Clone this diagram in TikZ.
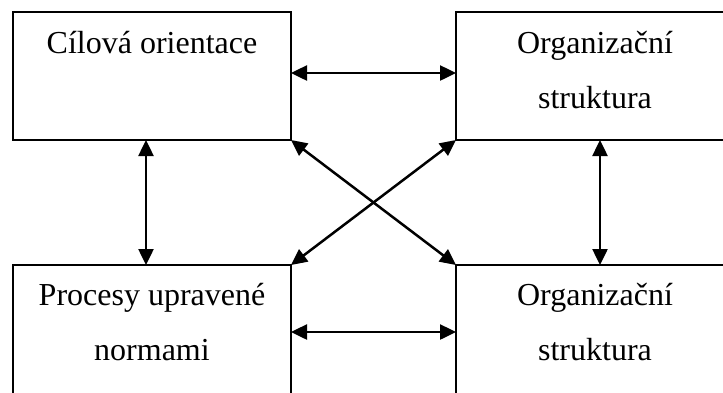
\documentclass[tikz,border=0pt]{standalone}
\usepackage{fontspec}
\setmainfont{Liberation Serif}
\usetikzlibrary{arrows.meta}
\begin{document}
\begin{tikzpicture}[x=1pt,y=-1pt,
  box/.style={draw, line width=2pt, minimum width=278pt, minimum height=128pt, inner sep=0pt, outer sep=0pt, anchor=north west},
  lowbox/.style={box, minimum height=136pt},
  lbl/.style={font=\fontsize{32}{40}\selectfont, anchor=base, inner sep=0pt},
  link/.style={line width=2.5pt, {Triangle[length=16pt,width=15pt]}-{Triangle[length=16pt,width=15pt]}}]
\useasboundingbox (0,0) rectangle (723,392);
\clip (0,0) rectangle (723,392);
\node[box] (tl) at (13,12) {};
\node[box] (tr) at (456,12) {};
\node[lowbox] (bl) at (13,265) {};
\node[lowbox] (br) at (456,265) {};
\node[lbl] (t1) at (152,53) {Cílová orientace};
\node[lbl] (t2) at (595,53) {Organizační};
\node[lbl] (t3) at (595,108) {struktura};
\node[lbl] (t4) at (152,305) {Procesy upravené};
\node[lbl] (t5) at (152,360) {normami};
\node[lbl] (t6) at (595,305) {Organizační};
\node[lbl] (t7) at (595,360) {struktura};
\draw[link] ([yshift=-61pt]tl.north east) -- ([yshift=-61pt]tr.north west);
\draw[link] ([yshift=-67pt]bl.north east) -- ([yshift=-67pt]br.north west);
\draw[link] ([xshift=133pt]tl.south west) -- ([xshift=133pt]bl.north west);
\draw[link] ([xshift=144pt]tr.south west) -- ([xshift=144pt]br.north west);
\draw[link] (tl.south east) -- (br.north west);
\draw[link] (tr.south west) -- (bl.north east);
\end{tikzpicture}
\end{document}
